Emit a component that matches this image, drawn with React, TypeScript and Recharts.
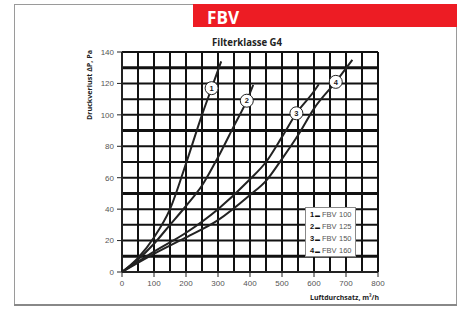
import React from 'react';
import { LineChart, Line, XAxis, YAxis, ReferenceLine } from 'recharts';

// Luftdurchsatz (m3/h) und Druckverlust (Pa) je Baugröße
const fbv100X = [0, 50, 100, 150, 200, 250, 280, 310];
const fbv100Y = [0, 9, 22, 40, 69, 100, 117, 134];
const fbv125X = [0, 50, 100, 150, 200, 250, 300, 350, 390, 410];
const fbv125Y = [0, 8, 18, 30, 42, 55, 73, 93, 109, 119];
const fbv150X = [0, 100, 200, 300, 400, 450, 500, 545, 600, 615];
const fbv150Y = [0, 13, 25, 40, 59, 70, 86, 101, 115, 119.5];
const fbv160X = [0, 100, 200, 300, 400, 450, 500, 550, 600, 668, 720];
const fbv160Y = [0, 11.5, 22, 33, 49, 58, 72, 87, 104, 121, 135];

// where the numbered circle sits on each curve
const labelAt = [280, 390, 545, 668];
const seriesNames = ['FBV 100', 'FBV 125', 'FBV 150', 'FBV 160'];

const xTicks = [0, 100, 200, 300, 400, 500, 600, 700, 800];
const yTicks = [0, 20, 40, 60, 80, 100, 120, 140];
const gridX = [50, 100, 150, 200, 250, 300, 350, 400, 450, 500, 550, 600, 650, 700, 750, 800];
const gridY = [10, 20, 30, 40, 50, 60, 70, 80, 90, 100, 110, 120, 130, 140];
const thickY = [10, 50, 90, 130];

const toPoints = (xs: number[], ys: number[]) => xs.map((x, i) => ({ x, y: ys[i] }));
const series = [
    toPoints(fbv100X, fbv100Y),
    toPoints(fbv125X, fbv125Y),
    toPoints(fbv150X, fbv150Y),
    toPoints(fbv160X, fbv160Y),
];

const tickStyle = { fill: '#555', fontSize: 8, fontFamily: 'Liberation Sans, Arial, sans-serif' };

const makeDot = (n: number) => (p: any) => {
    if (p.payload && p.payload.x === labelAt[n]) {
        return (
            <g key={`lbl-${n}`}>
                <circle cx={p.cx} cy={p.cy} r={6.5} fill="#fff" stroke="#222" strokeWidth={1} />
                <text
                    x={p.cx}
                    y={p.cy + 2.7}
                    textAnchor="middle"
                    fontSize={7.5}
                    fontWeight="bold"
                    fontFamily="Liberation Sans, Arial, sans-serif"
                    fill="#222"
                >
                    {n + 1}
                </text>
            </g>
        );
    }
    return <g key={`d-${n}-${p.index}`} />;
};

const LegendBox = () => (
    <div
        style={{
            position: 'absolute',
            left: 305,
            top: 207,
            width: 51,
            height: 50,
            boxSizing: 'border-box',
            border: '1px solid #888',
            background: '#fff',
            paddingTop: 0.5,
            fontFamily: 'Liberation Sans, Arial, sans-serif',
            fontSize: 7.5,
        }}
    >
        {seriesNames.map((name, i) => {
            const [a, b] = name.split(' ');
            return (
                <div key={name} style={{ display: 'flex', height: 12.2, lineHeight: '12.2px', paddingLeft: 4 }}>
                    <span style={{ width: 5, fontWeight: 'bold', color: '#111' }}>{i + 1}</span>
                    <span style={{ width: 7, fontWeight: 'bold', color: '#111', fontSize: 5 }}>▬</span>
                    <span style={{ width: 17, color: '#555' }}>{a}</span>
                    <span style={{ color: '#555' }}>{b}</span>
                </div>
            );
        })}
    </div>
);

export default function App() {
    return (
        <div style={{ position: 'absolute', left: 0, top: 0, width: 462, height: 309, background: '#fff' }}>
            <svg width={462} height={309} style={{ position: 'absolute', left: 0, top: 0 }}>
                <rect x={14.5} y={4.5} width={442} height={300} fill="none" stroke="#9a9a9a" strokeWidth={1} />
                <line x1={14} y1={305} x2={457} y2={305} stroke="#888" strokeWidth={2} />
                <rect x={193} y={4} width={264} height={23} fill="#ed1c24" />
                <text
                    x={207}
                    y={23.5}
                    fill="#fff"
                    fontSize={18}
                    fontWeight="bold"
                    fontFamily="Open Sans, sans-serif"
                    textLength={32}
                    lengthAdjust="spacingAndGlyphs"
                >
                    FBV
                </text>
                <text
                    x={247}
                    y={46}
                    textAnchor="middle"
                    fill="#222"
                    fontSize={11}
                    fontWeight="bold"
                    fontFamily="Open Sans, sans-serif"
                    textLength={70}
                    lengthAdjust="spacingAndGlyphs"
                >
                    Filterklasse G4
                </text>
                <text
                    x={89}
                    y={87.5}
                    transform="rotate(-90 89 85)"
                    textAnchor="middle"
                    fill="#222"
                    fontSize={7.5}
                    fontWeight="bold"
                    fontFamily="Open Sans, sans-serif"
                    textLength={70}
                    lengthAdjust="spacingAndGlyphs"
                >
                    Druckverlust ΔP, Pa
                </text>
                <text
                    x={379}
                    y={299.5}
                    textAnchor="end"
                    fill="#222"
                    fontSize={7.5}
                    fontWeight="bold"
                    fontFamily="Open Sans, sans-serif"
                    textLength={69}
                    lengthAdjust="spacingAndGlyphs"
                >
                    Luftdurchsatz, m³/h
                </text>
            </svg>
            <div style={{ position: 'absolute', left: 0, top: 0 }}>
                <LineChart width={462} height={309} margin={{ top: 52, right: 84, bottom: 17, left: 92 }}>
                    <XAxis
                        type="number"
                        dataKey="x"
                        domain={[0, 800]}
                        ticks={xTicks}
                        height={20}
                        tick={tickStyle}
                        tickSize={5}
                        tickMargin={3}
                        stroke="#222"
                        axisLine={{ stroke: '#222', strokeWidth: 2 }}
                        tickLine={{ stroke: '#222' }}
                    />
                    <YAxis
                        type="number"
                        domain={[0, 140]}
                        ticks={yTicks}
                        width={30}
                        tick={tickStyle}
                        tickSize={5}
                        tickMargin={3}
                        axisLine={{ stroke: '#222', strokeWidth: 2 }}
                        tickLine={{ stroke: '#222' }}
                    />
                    {gridX.map((v) => (
                        <ReferenceLine key={`gx${v}`} x={v} stroke="#111" strokeWidth={2} />
                    ))}
                    {gridY.map((v) => (
                        <ReferenceLine
                            key={`gy${v}`}
                            y={v}
                            stroke="#111"
                            strokeWidth={thickY.includes(v) ? 3 : 2}
                        />
                    ))}
                    {series.map((data, i) => (
                        <Line
                            key={seriesNames[i]}
                            data={data}
                            dataKey="y"
                            type="monotone"
                            stroke="#222"
                            strokeWidth={2}
                            dot={makeDot(i)}
                            activeDot={false}
                            isAnimationActive={false}
                        />
                    ))}
                </LineChart>
            </div>
            <LegendBox />
        </div>
    );
}
